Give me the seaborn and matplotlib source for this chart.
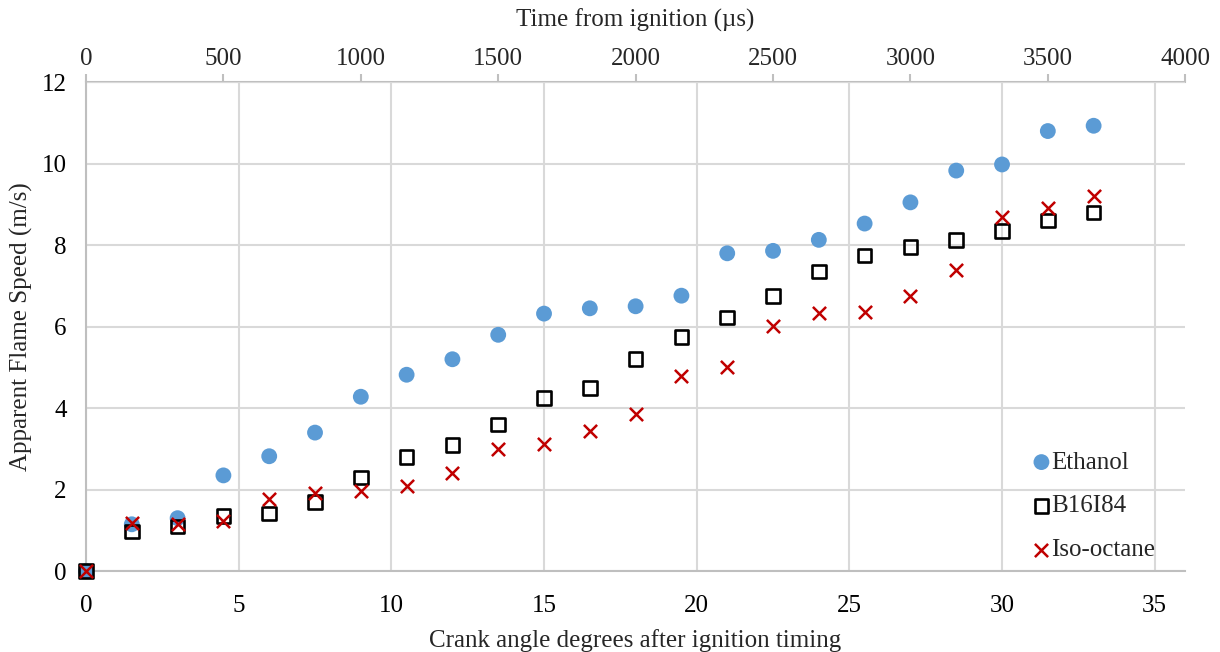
import matplotlib
matplotlib.use("Agg")
import matplotlib.pyplot as plt
import seaborn as sns
import pandas as pd
import numpy as np

crank_angle = [0, 1.5, 3, 4.5, 6, 7.5, 9, 10.5, 12, 13.5, 15, 16.5, 18, 19.5,
               21, 22.5, 24, 25.5, 27, 28.5, 30, 31.5, 33]
ethanol = [0, 1.15, 1.3, 2.35, 2.82, 3.4, 4.28, 4.82, 5.2, 5.8, 6.32, 6.45, 6.5,
           6.76, 7.8, 7.86, 8.13, 8.53, 9.05, 9.83, 9.98, 10.8, 10.93]
b16i84 = [0, 0.97, 1.1, 1.35, 1.42, 1.7, 2.3, 2.8, 3.1, 3.6, 4.25, 4.5, 5.2,
          5.75, 6.22, 6.75, 7.35, 7.75, 7.95, 8.12, 8.35, 8.6, 8.8]
isooctane = [0, 1.17, 1.15, 1.22, 1.77, 1.92, 1.97, 2.1, 2.42, 3.0, 3.12, 3.45,
             3.85, 4.78, 5.0, 6.02, 6.33, 6.35, 6.75, 7.38, 8.7, 8.92, 9.2]
series_names = ["Ethanol", "B16I84", "Iso-octane"]
bottom_ticks = [0, 5, 10, 15, 20, 25, 30, 35]
top_ticks = [0, 500, 1000, 1500, 2000, 2500, 3000, 3500, 4000]
y_ticks = [0, 2, 4, 6, 8, 10, 12]

sns.set_theme(style="white")
plt.rcParams['font.family'] = ['Liberation Serif', 'DejaVu Serif']

df = pd.DataFrame({
    "x": crank_angle * 3,
    "y": ethanol + b16i84 + isooctane,
    "fuel": [series_names[0]] * len(crank_angle) + [series_names[1]] * len(crank_angle)
            + [series_names[2]] * len(crank_angle),
})

FS = 18
fig = plt.figure(figsize=(12.2, 6.52), dpi=100)
ax = fig.add_axes([0.0705, 0.124, 0.901, 0.750])

grid_c = "#d9d9d9"
ax.set_xlim(0, 36)
ax.set_ylim(0, 12)
ax.set_xticks(bottom_ticks)
ax.set_yticks(y_ticks)
ax.grid(True, color=grid_c, linewidth=1.5)
ax.set_axisbelow(True)

styles = {
    "Ethanol": dict(marker="o", s=130, color="#5B9BD5", edgecolor="none", linewidth=0),
    "B16I84": dict(marker="s", s=95, facecolor="none", edgecolor="black", linewidth=1.9),
    "Iso-octane": dict(marker="x", s=90, color="#C00000", linewidth=1.8),
}
for name in series_names:
    sub = df[df["fuel"] == name]
    sns.scatterplot(data=sub, x="x", y="y", ax=ax, label=name, zorder=3,
                    clip_on=False, **styles[name])

for side in ["right", "top"]:
    ax.spines[side].set_visible(False)
for side in ["left", "bottom"]:
    ax.spines[side].set_color("#bfbfbf")
    ax.spines[side].set_linewidth(1.5)
    ax.spines[side].set_zorder(1)

ax.tick_params(axis="x", length=0, labelsize=FS, colors="black", pad=17)
ax.tick_params(axis="y", length=0, labelsize=FS, colors="black", pad=14)
ax.set_xlabel("Crank angle degrees after ignition timing", fontsize=FS, labelpad=9)
ax.set_ylabel("Apparent Flame Speed (m/s)", fontsize=FS, labelpad=6)

secax = ax.secondary_xaxis("top", functions=(lambda d: d * 1000.0 / 9.0,
                                             lambda t: t * 9.0 / 1000.0))
secax.set_xticks(top_ticks)
secax.tick_params(axis="x", length=6, width=1.5, color="#bfbfbf", labelsize=FS, pad=3)
secax.spines["top"].set_color("#bfbfbf")
secax.spines["top"].set_linewidth(1.5)
secax.set_xlabel("Time from ignition (µs)", fontsize=FS, labelpad=15)

leg = ax.legend(loc="lower right", bbox_to_anchor=(0.982, 0.0), frameon=False,
                fontsize=FS, handletextpad=-0.4, labelspacing=0.85,
                borderaxespad=0.0, handlelength=1.6)

fig.savefig("out.png", dpi=100)
